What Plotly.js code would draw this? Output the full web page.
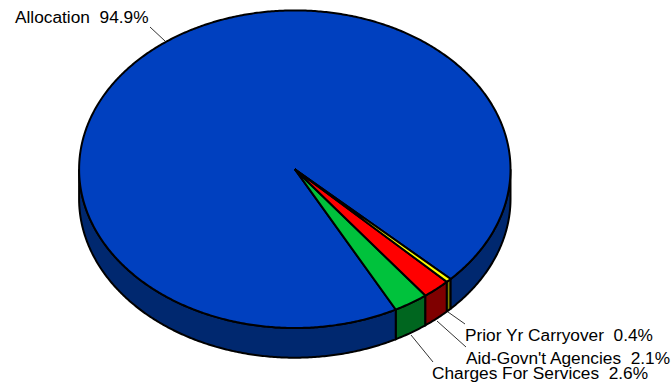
<!DOCTYPE html>
<html>
<head>
<meta charset="utf-8">
<script src="https://cdn.plot.ly/plotly-3.0.1.min.js"></script>
<style>html,body{margin:0;padding:0;background:#fff;overflow:hidden}#chart{width:672px;height:385px}</style>
</head>
<body>
<div id="chart"></div>
<script>
// Revenue sources, percent of total
const categories = ["Charges For Services", "Aid-Govn't Agencies", "Prior Yr Carryover", "Allocation"];
const shares = [2.6, 2.1, 0.4, 94.9];
const topColors = ["#00C23C", "#FF0000", "#FFFF00", "#0040BF"];
const wallColors = ["#00661F", "#7F0000", "#808000", "#00286F"];

// Label anchors and leader lines, in plot units
const labelX = [430, 464, 463, 13];
const labelY = [373, 358, 335, 17];
const leaderX = [[411, 433], [437, 466], [448, 465], [150, 165]];
const leaderY = [[335, 362], [321, 347], [312, 324], [27, 41]];

// Tilted disc geometry
const cx = 294.8, cy = 169.2, rx = 215.7, ry = 158.8, depth = 29.7;
const startAngle = 27.9; // degrees from straight down, running toward the right

const rad = d => d * Math.PI / 180;
const px = d => cx + rx * Math.sin(rad(d));
const py = (d, drop) => cy + ry * Math.cos(rad(d)) + drop;

function arc(a, b, drop) {
  const pts = [], n = Math.max(2, Math.ceil(Math.abs(b - a) * 2));
  for (let i = 0; i <= n; i++) {
    const d = a + (b - a) * i / n;
    pts.push([px(d), py(d, drop)]);
  }
  return pts;
}

function polygon(pts, fill, name) {
  return {
    type: 'scatter', mode: 'lines', name: name, fill: 'toself', fillcolor: fill,
    x: pts.map(p => p[0]), y: pts.map(p => p[1]),
    line: {color: '#000', width: 2, simplify: false}, hoverinfo: 'skip', showlegend: false
  };
}

const wallTraces = [], topTraces = [];
let angle = startAngle;
shares.forEach((s, i) => {
  const a = angle, b = angle + s * 3.6;
  angle = b;
  // only the front half of the rim shows a side wall
  [0, 360].forEach(k => {
    const lo = Math.max(a, -90 + k), hi = Math.min(b, 90 + k);
    if (hi > lo) {
      const pts = arc(lo, hi, 0).concat(arc(hi, lo, depth));
      pts.push(pts[0]);
      wallTraces.push(polygon(pts, wallColors[i], categories[i] + ' side'));
    }
  });
  const wedge = [[cx, cy]].concat(arc(a, b, 0));
  wedge.push([cx, cy]);
  topTraces.push({trace: polygon(wedge, topColors[i], categories[i]), big: s > 50});
});

// the large slice goes underneath so the thin ones keep their outlines
const tops = topTraces.filter(t => t.big).concat(topTraces.filter(t => !t.big)).map(t => t.trace);

const leaders = leaderX.map((xs, i) => ({
  type: 'scatter', mode: 'lines', x: xs, y: leaderY[i],
  line: {color: '#000', width: 0.8}, hoverinfo: 'skip', showlegend: false
}));

const annotations = categories.map((c, i) => ({
  x: labelX[i], y: labelY[i], xref: 'x', yref: 'y', xanchor: 'left', yanchor: 'middle',
  text: c + '\u00A0\u00A0' + shares[i].toFixed(1) + '%', showarrow: false,
  font: {family: 'Liberation Sans, Arial, sans-serif', size: 17.3, color: '#000'}
}));

Plotly.newPlot('chart', wallTraces.concat(tops, leaders), {
  width: 672, height: 385, margin: {l: 0, r: 0, t: 0, b: 0},
  paper_bgcolor: '#fff', plot_bgcolor: '#fff', showlegend: false,
  xaxis: {range: [0, 672], visible: false, fixedrange: true},
  yaxis: {range: [385, 0], visible: false, fixedrange: true},
  annotations: annotations
}, {displayModeBar: false, staticPlot: true});
</script>
</body>
</html>
